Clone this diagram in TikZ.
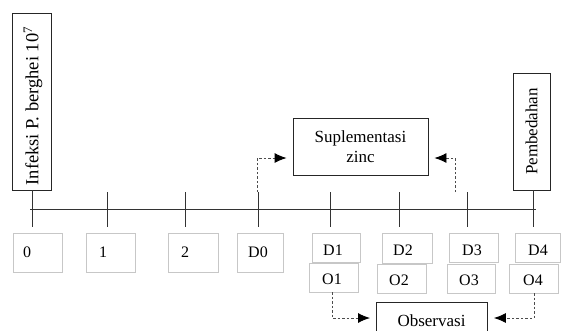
\documentclass[tikz,border=0pt]{standalone}
\usepackage{fontspec}
\setmainfont{Liberation Serif}
\usetikzlibrary{arrows.meta}
\begin{document}
\begin{tikzpicture}[x=1pt,y=-1pt,
  bigbox/.style={draw=black!85,line width=0.9pt,inner sep=0pt},
  smallbox/.style={draw=black!22,line width=0.8pt,inner sep=0pt},
  lbl/.style={font=\fontsize{16}{18}\selectfont,inner sep=0pt},
  tick/.style={draw=black!80,line width=0.9pt},
  darr/.style={draw=black!70,dashed,dash pattern=on 2.5pt off 2pt,line width=0.9pt,shorten >=6pt,-{Latex[length=12pt,width=10pt,fill=black,color=black]}}]
\useasboundingbox (0,0) rectangle (561,330);
\clip (0,0) rectangle (561,330);
% main boxes
\node[bigbox,minimum width=39pt,minimum height=177pt] (inf) at (31.5,101.5) {};
\node[rotate=90,font=\fontsize{18.5}{21}\selectfont] (inft) at (33,106) {Infeksi P. berghei 10\textsuperscript{7}};
\node[bigbox,minimum width=37pt,minimum height=117pt] (pem) at (531.5,131.5) {};
\node[rotate=90,font=\fontsize{17}{19}\selectfont] (pemt) at (pem.center) {Pembedahan};
\node[bigbox,minimum width=135pt,minimum height=57pt,align=center,font=\fontsize{17}{20}\selectfont] (sup) at (360.5,146.5) {Suplementasi\\zinc};
\node[bigbox,minimum width=111pt,minimum height=40pt,anchor=north west] (obs) at (376,302) {};
\node[font=\fontsize{17}{19}\selectfont] (obst) at (431.5,321) {Observasi};
% axis
\coordinate (a0) at (30,209);
\coordinate (a1) at (536,209);
\draw[tick] (a0) -- (a1);
\foreach \n/\x in {t0/32,t1/107,t2/185,t3/258,t4/330,t5/399,t6/467,t7/533}{
  \coordinate (\n top) at (\x,192);
  \coordinate (\n bot) at (\x,227);
}
\draw[tick] (inf.south -| t0top) -- (t0bot);
\draw[tick] (pem.south -| t7top) -- (t7bot);
\foreach \n in {t1,t2,t3,t4,t5,t6}{\draw[tick] (\n top) -- (\n bot);}
% day boxes
\draw[smallbox] (13,233) rectangle (62,272);
\draw[smallbox] (86,233) rectangle (135,272);
\draw[smallbox] (168,233) rectangle (218,272);
\draw[smallbox] (237,233) rectangle (283,272);
\draw[smallbox] (312,233) rectangle (360,262);
\draw[smallbox] (382,233) rectangle (432,263);
\draw[smallbox] (449,233) rectangle (498,262);
\draw[smallbox] (515,233) rectangle (560,262);
\draw[smallbox] (309,263) rectangle (358,292);
\draw[smallbox] (377,264) rectangle (426,293);
\draw[smallbox] (447,264) rectangle (495,293);
\draw[smallbox] (509,264) rectangle (558,293);
\node[lbl] (l0) at (27,252) {0};
\node[lbl] (l1) at (103,252) {1};
\node[lbl] (l2) at (185,252) {2};
\node[lbl] (ld0) at (258,252) {D0};
\node[lbl] (ld1) at (333,250) {D1};
\node[lbl] (ld2) at (403,250) {D2};
\node[lbl] (ld3) at (472,250) {D3};
\node[lbl] (ld4) at (538,250) {D4};
\node[lbl] (lo1) at (332,279) {O1};
\node[lbl] (lo2) at (399,280) {O2};
\node[lbl] (lo3) at (469,280) {O3};
\node[lbl] (lo4) at (533,280) {O4};
% dashed arrows
\coordinate (s1) at (257,192);
\coordinate (s2) at (455,192);
\draw[darr] (s1) |- (sup.west |- 0,158);
\draw[darr] (s2) |- (sup.east |- 0,158);
\coordinate (o1) at (332,292);
\coordinate (o4) at (534,293);
\draw[darr] (o1) |- (obs.west |- 0,318);
\draw[darr] (o4) |- (obs.east |- 0,318);
\end{tikzpicture}
\end{document}
